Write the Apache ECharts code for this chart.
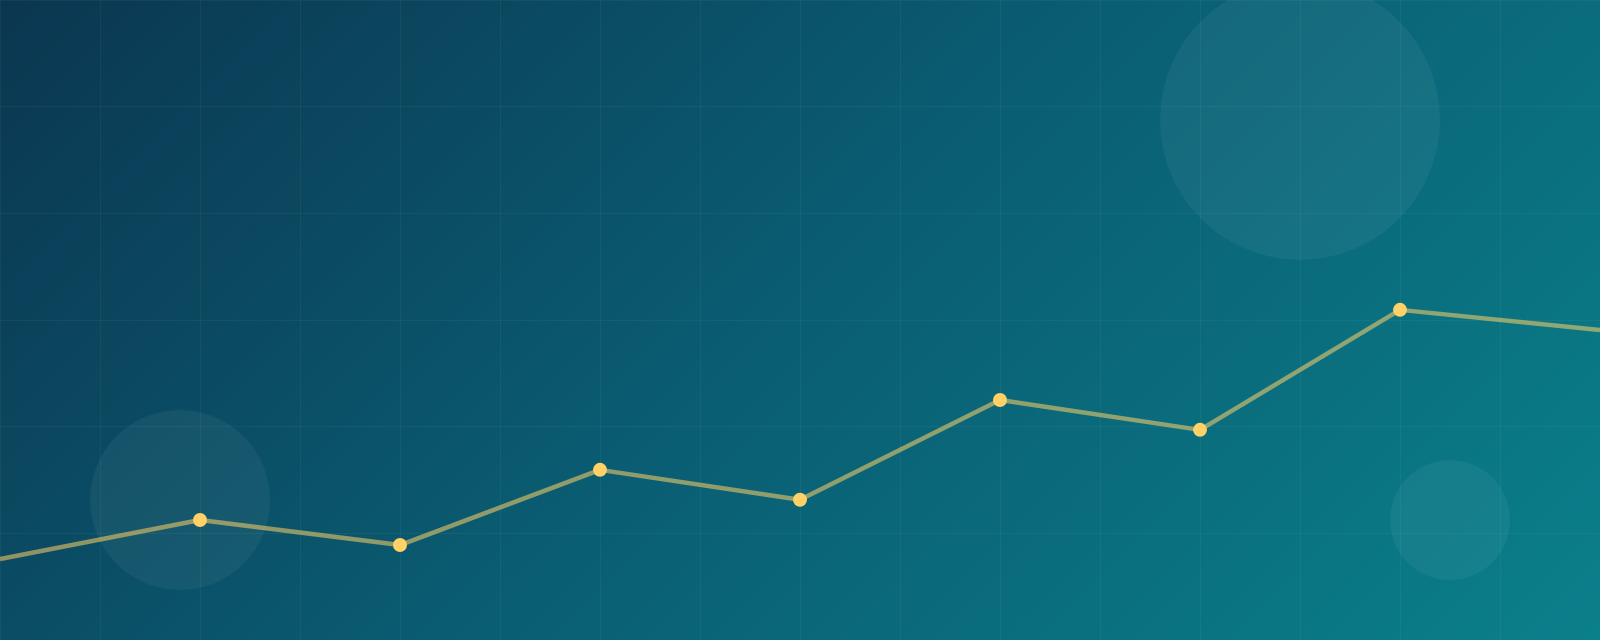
<!DOCTYPE html>
<html>
<head>
<meta charset="utf-8">
<script src="https://cdn.jsdelivr.net/npm/echarts@6/dist/echarts.min.js"></script>
<style>
  html, body { margin: 0; padding: 0; width: 1600px; height: 640px; overflow: hidden; }
  #chart { width: 1600px; height: 640px; background: linear-gradient(135deg, #0b3650 0%, #0a5a70 45%, #0a808b 100%); }
</style>
</head>
<body>
<div id="chart"></div>
<script>
// Data
const categories = ['P0', 'P1', 'P2', 'P3', 'P4', 'P5', 'P6', 'P7', 'P8'];
const values = [15.2, 22.5, 17.8, 31.9, 26.3, 45.0, 39.4, 61.9, 58.1];
const yTicks = [0, 20, 40, 60, 80, 100, 120];
const gridColumns = [0, 16];

const chart = echarts.init(document.getElementById('chart'), null, { renderer: 'canvas' });

const gridLine = { show: true, lineStyle: { color: 'rgba(255,255,255,0.045)', width: 1 } };

const seriesData = values.map((v, i) => {
  const item = { value: v };
  if (i === 0 || i === values.length - 1) item.symbol = 'none';
  return item;
});

chart.setOption({
  backgroundColor: 'transparent',
  animation: false,
  grid: { left: 0, right: 0, top: 0, bottom: 0 },
  xAxis: [
    {
      type: 'category',
      data: categories,
      boundaryGap: false,
      show: true,
      axisLine: { show: false },
      axisTick: { show: false },
      axisLabel: { show: false },
      splitLine: { show: false }
    },
    {
      type: 'value',
      min: gridColumns[0],
      max: gridColumns[1],
      interval: 1,
      axisLine: { show: false },
      axisTick: { show: false },
      axisLabel: { show: false },
      splitLine: gridLine
    }
  ],
  yAxis: {
    type: 'value',
    min: yTicks[0],
    max: yTicks[yTicks.length - 1],
    interval: yTicks[1] - yTicks[0],
    axisLine: { show: false },
    axisTick: { show: false },
    axisLabel: { show: false },
    splitLine: gridLine
  },
  graphic: [
    { type: 'circle', z: 1, shape: { cx: 1300, cy: 120, r: 140 }, style: { fill: 'rgba(255,255,255,0.05)' } },
    { type: 'circle', z: 1, shape: { cx: 180, cy: 500, r: 90 }, style: { fill: 'rgba(255,255,255,0.05)' } },
    { type: 'circle', z: 1, shape: { cx: 1450, cy: 520, r: 60 }, style: { fill: 'rgba(255,255,255,0.05)' } }
  ],
  series: [
    {
      type: 'line',
      xAxisIndex: 0,
      data: seriesData,
      z: 5,
      symbol: 'circle',
      symbolSize: 14,
      showAllSymbol: true,
      lineStyle: { color: 'rgba(255,209,102,0.55)', width: 4.5 },
      itemStyle: { color: '#ffd166', borderWidth: 0 }
    }
  ]
});
</script>
</body>
</html>
